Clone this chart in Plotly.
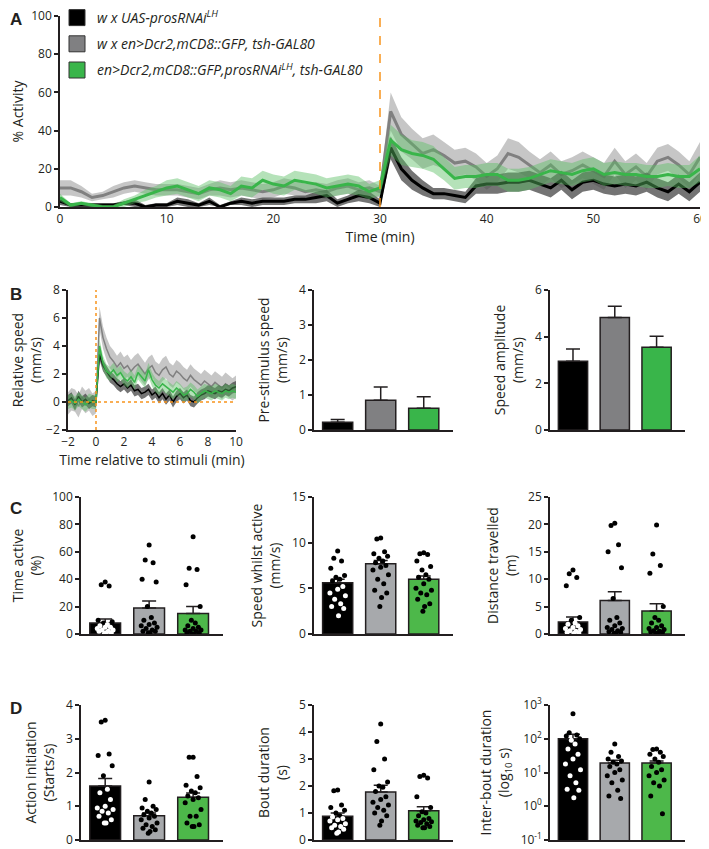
import plotly.graph_objects as go

# window is 709x849; the page body's default 8px margin offsets the figure,
# so the figure is sized to reach exactly the right/bottom window edges
OFF = 8
W, H = 709 - OFF, 849 - OFF

# ---------------- data ----------------
GROUP_NAMES = [
    "<i>w x UAS-prosRNAi<sup>LH</sup></i>",
    "<i>w x en>Dcr2,mCD8::GFP, tsh-GAL80</i>",
    "<i>en>Dcr2,mCD8::GFP,prosRNAi<sup>LH</sup>, tsh-GAL80</i>",
]

# Panel A: % activity per minute
A_TIME = [0, 1, 2, 3, 4, 5, 6, 7, 8, 9, 10, 11, 12, 13, 14, 15, 16, 17, 18, 19, 20,
          21, 22, 23, 24, 25, 26, 27, 28, 29, 30, 31, 32, 33, 34, 35, 36, 37, 38, 39, 40,
          41, 42, 43, 44, 45, 46, 47, 48, 49, 50, 51, 52, 53, 54, 55, 56, 57, 58, 59, 60]
A_BLACK = [3, 1, 1, 1, 1, 1, 2, 2, 0, 1, 1, 3, 2, 1, 3, 0, 2, 3, 2, 3, 3, 3, 4, 4, 5, 6, 2, 4, 6, 5, 2,
           31, 20, 14, 10, 7, 7, 6, 5, 11, 12, 12, 13, 13, 14, 12, 10, 14, 9, 13, 14, 12, 11, 12, 11, 13, 10, 8, 12, 8, 13]
A_BLACK_SEM = [2, 1, 1, 1, 1, 1, 1, 2, 1, 1, 1, 2, 2, 1, 2, 1, 1, 2, 2, 2, 2, 2, 2, 2, 3, 3, 2, 2, 3, 3, 2,
               6, 6, 5, 4, 3, 3, 3, 3, 4, 5, 5, 5, 5, 5, 5, 5, 5, 5, 5, 5, 5, 5, 5, 5, 5, 5, 5, 5, 5, 5]
A_GRAY = [10, 10, 8, 5, 6, 8, 10, 11, 10, 9, 9, 9, 8, 7, 9, 10, 9, 10, 9, 8, 9, 11, 10, 8, 9, 8, 10, 11, 9, 10, 8,
          50, 38, 33, 28, 30, 27, 23, 24, 21, 16, 20, 28, 26, 22, 18, 22, 17, 19, 22, 19, 16, 24, 17, 21, 16, 24, 26, 22, 17, 26]
A_GRAY_SEM = [4, 4, 3, 2, 2, 3, 3, 3, 3, 3, 3, 3, 3, 3, 3, 4, 4, 4, 4, 4, 4, 4, 4, 4, 4, 4, 4, 4, 4, 4, 3,
              10, 9, 8, 8, 8, 7, 7, 7, 7, 7, 7, 8, 8, 7, 7, 7, 7, 7, 7, 7, 7, 7, 7, 7, 7, 7, 7, 7, 7, 8]
A_GREEN = [5, 1, 2, 1, 0, 0, 2, 4, 6, 8, 10, 11, 9, 7, 10, 9, 7, 11, 10, 14, 12, 11, 14, 13, 12, 10, 11, 12, 11, 8, 10,
           35, 30, 28, 27, 25, 20, 15, 16, 16, 17, 17, 14, 14, 15, 17, 19, 18, 17, 19, 20, 17, 18, 17, 17, 16, 16, 17, 16, 16, 20]
A_GREEN_SEM = [2, 1, 1, 1, 1, 1, 2, 2, 3, 3, 4, 4, 4, 4, 4, 4, 4, 5, 5, 5, 5, 5, 5, 5, 5, 5, 5, 5, 5, 4, 4,
               8, 8, 7, 7, 7, 6, 6, 6, 6, 6, 6, 6, 6, 6, 6, 6, 6, 6, 6, 6, 6, 6, 6, 6, 6, 6, 6, 6, 6, 7]
STIM_TIME = 30

# Panel B: relative speed around stimulus
B_TIME = [-2, -1.75, -1.5, -1.25, -1, -0.75, -0.5, -0.25, 0, 0.25, 0.5, 0.75, 1, 1.25, 1.5, 1.75,
          2, 2.25, 2.5, 2.75, 3, 3.25, 3.5, 3.75, 4, 4.25, 4.5, 4.75, 5, 5.25, 5.5, 5.75,
          6, 6.25, 6.5, 6.75, 7, 7.25, 7.5, 7.75, 8, 8.25, 8.5, 8.75, 9, 9.25, 9.5, 9.75, 10]
B_BLACK = [0.1, 0.3, -0.2, 0.4, 0.0, 0.2, -0.1, 0.1, 0.0, 3.4, 2.6, 2.2, 1.8, 1.6, 1.3, 1.1,
           1.3, 1.0, 1.2, 0.8, 0.9, 0.6, 0.7, 0.9, 0.5, 0.7, 0.3, 0.6, 0.2, 0.5, 0.0, 0.4,
           0.6, 0.3, 0.5, 0.1, 0.0, 0.3, 0.5, 0.6, 0.8, 0.7, 0.6, 0.8, 0.7, 0.9, 0.8, 1.0, 1.1]
B_GRAY = [-0.1, 0.2, 0.1, -0.3, 0.3, 0.0, 0.2, -0.2, 0.0, 6.0, 4.6, 3.8, 3.2, 2.9, 2.5, 2.8,
          2.4, 2.6, 2.2, 2.5, 2.7, 2.3, 2.0, 2.4, 2.6, 2.1, 1.9, 2.3, 2.5, 2.0, 1.8, 2.2,
          2.0, 1.7, 1.5, 1.9, 1.6, 1.4, 1.2, 1.5, 1.3, 1.1, 1.4, 1.2, 1.0, 1.3, 1.1, 0.9, 1.1]
B_GREEN = [0.0, 0.1, -0.1, 0.2, 0.0, -0.2, 0.1, 0.0, 0.0, 4.0, 2.8, 2.2, 2.0, 2.3, 1.9, 2.1,
           1.7, 1.5, 1.8, 1.4, 2.1, 1.8, 1.5, 2.3, 1.6, 1.2, 1.0, 1.3, 1.1, 0.9, 0.7, 1.0,
           0.8, 0.5, 0.6, 0.9, 0.7, 0.4, 0.6, 0.8, 0.7, 0.6, 0.8, 0.7, 0.6, 0.8, 0.7, 0.8, 0.7]
B_SEM = [0.4, 0.8, 0.5]  # black, gray, green

# Bar panels: mean, SEM (upper), individual animals
PRE_MEAN = [0.22, 0.85, 0.62]
PRE_SEM = [0.08, 0.38, 0.33]
AMP_MEAN = [2.95, 4.82, 3.55]
AMP_SEM = [0.52, 0.48, 0.47]

TA_MEAN = [8, 19, 15]
TA_SEM = [3, 5, 5]
TA_PTS = [
    [38, 36, 35, 10, 9, 8, 7, 6, 5, 5, 4, 3, 3, 2, 2, 1, 1, 0],
    [65, 54, 52, 40, 38, 20, 12, 10, 8, 7, 6, 5, 4, 3, 2, 2, 1, 1],
    [71, 48, 47, 36, 20, 10, 8, 6, 5, 4, 3, 3, 2, 2, 1, 1, 0, 0],
]
SWA_MEAN = [5.6, 7.7, 6.0]
SWA_SEM = [0.4, 0.35, 0.35]
SWA_PTS = [
    [9.1, 8.3, 8.0, 7.2, 6.4, 6.2, 6.0, 5.8, 5.2, 4.9, 4.5, 4.2, 3.8, 3.3, 3.0, 2.8, 2.0],
    [10.5, 10.4, 9.0, 8.8, 8.5, 8.3, 8.0, 7.8, 7.5, 7.3, 7.0, 6.5, 6.0, 5.5, 4.8, 4.5, 4.0, 3.0],
    [8.9, 8.8, 8.7, 8.0, 7.4, 7.0, 6.5, 6.2, 6.0, 5.5, 5.0, 4.8, 4.5, 4.3, 3.8, 3.3, 3.0, 2.5],
]
DIST_MEAN = [2.2, 6.1, 4.2]
DIST_SEM = [0.9, 1.6, 1.3]
DIST_PTS = [
    [11.7, 11.0, 10.3, 8.8, 3.0, 2.5, 2.0, 1.8, 1.5, 1.2, 1.0, 0.8, 0.6, 0.5, 0.3, 0.2, 0.1],
    [20.2, 19.8, 16.3, 15.0, 12.1, 6.5, 3.0, 2.5, 2.0, 1.5, 1.2, 1.0, 0.8, 0.6, 0.4, 0.3, 0.2, 0.1],
    [19.9, 14.6, 12.5, 11.1, 5.0, 3.0, 2.5, 2.0, 1.5, 1.2, 1.0, 0.8, 0.6, 0.5, 0.4, 0.3, 0.2, 0.1],
]
ACT_MEAN = [1.6, 0.72, 1.27]
ACT_SEM = [0.22, 0.08, 0.12]
ACT_PTS = [
    [3.55, 3.5, 2.55, 2.5, 2.2, 1.9, 1.5, 1.4, 1.2, 1.0, 0.95, 0.9, 0.85, 0.8, 0.7, 0.6, 0.5, 0.5],
    [1.72, 1.2, 1.0, 0.95, 0.9, 0.85, 0.8, 0.75, 0.7, 0.65, 0.6, 0.5, 0.45, 0.4, 0.35, 0.3, 0.25, 0.2],
    [2.45, 2.45, 1.88, 1.62, 1.55, 1.45, 1.4, 1.3, 1.25, 1.2, 1.1, 0.9, 0.7, 0.7, 0.5, 0.45, 0.4, 0.4],
]
BOUT_MEAN = [0.88, 1.78, 1.08]
BOUT_SEM = [0.12, 0.25, 0.15]
BOUT_PTS = [
    [1.85, 1.82, 1.3, 1.2, 1.1, 1.0, 0.9, 0.85, 0.8, 0.75, 0.7, 0.6, 0.55, 0.5, 0.45, 0.4, 0.3, 0.25],
    [4.3, 3.65, 3.0, 2.6, 2.15, 2.0, 1.95, 1.8, 1.6, 1.5, 1.4, 1.3, 1.2, 1.1, 1.0, 0.9, 0.7, 0.55],
    [2.4, 2.35, 2.3, 1.6, 1.2, 1.05, 1.0, 0.9, 0.8, 0.75, 0.7, 0.68, 0.65, 0.6, 0.55, 0.5, 0.45, 0.45],
]
IBD_MEAN = [100, 19, 19]
IBD_SEM = [35, 4, 3]
IBD_PTS = [
    [550, 150, 130, 120, 100, 90, 70, 50, 35, 25, 18, 12, 8, 5, 3.2, 3.0, 1.8],
    [70, 40, 30, 25, 22, 20, 18, 15, 12, 10, 8, 6, 5, 3, 2, 1.7],
    [50, 48, 40, 35, 30, 25, 20, 15, 12, 10, 8, 6, 5, 4, 2, 0.6],
]

# ---------------- style ----------------
FONT = "Open Sans"
INK = "#231f20"
LINE_COLS = ["#000000", "#808080", "#39b54a"]
BAND_COLS = ["rgba(70,70,70,0.75)", "rgba(160,160,160,0.6)", "rgba(90,190,100,0.45)"]
BAR_COLS_B = ["#000000", "#808082", "#39b54a"]
BAR_COLS_CD = ["#000000", "#a7a9ac", "#4db84a"]
JITTER = [0.0, -0.09, 0.09, -0.16, 0.16, -0.04, 0.05, -0.12, 0.12, 0.0, -0.18, 0.18,
          -0.07, 0.07, -0.14, 0.14, 0.02, -0.02]


def dom_x(left, right):
    """page-pixel x span -> paper fraction"""
    return [(left - OFF) / W, (right - OFF) / W]


def dom_y(top, bottom):
    """page-pixel y span -> paper fraction"""
    return [1 - (bottom - OFF) / H, 1 - (top - OFF) / H]


fig = go.Figure()

# ---- Panel A ----
for series, sem, i in [(A_GRAY, A_GRAY_SEM, 1), (A_BLACK, A_BLACK_SEM, 0), (A_GREEN, A_GREEN_SEM, 2)]:
    up = [m + s for m, s in zip(series, sem)]
    lo = [max(m - s, 0) for m, s in zip(series, sem)]
    fig.add_trace(go.Scatter(x=A_TIME + A_TIME[::-1], y=up + lo[::-1], fill="toself",
                             fillcolor=BAND_COLS[i], line=dict(width=0), mode="lines",
                             hoverinfo="skip", showlegend=False, xaxis="x", yaxis="y"))
    fig.add_trace(go.Scatter(x=A_TIME, y=series, mode="lines", line=dict(color=LINE_COLS[i], width=3),
                             showlegend=False, xaxis="x", yaxis="y"))
fig.add_shape(type="line", xref="x", yref="y domain", x0=STIM_TIME, x1=STIM_TIME, y0=0, y1=1,
              line=dict(color="#f7941d", width=1.5, dash="dash"))

# legend entries
for i in range(3):
    fig.add_trace(go.Scatter(x=[None], y=[None], mode="markers", name=GROUP_NAMES[i],
                             legendgroup=f"g{i}",
                             marker=dict(symbol="square", size=16, color=BAR_COLS_B[i],
                                         line=dict(color="#333333", width=1)),
                             xaxis="x", yaxis="y"))

# ---- Panel B line plot ----
for series, i in [(B_GRAY, 1), (B_BLACK, 0), (B_GREEN, 2)]:
    up = [m + B_SEM[i] for m in series]
    lo = [m - B_SEM[i] for m in series]
    fig.add_trace(go.Scatter(x=B_TIME + B_TIME[::-1], y=up + lo[::-1], fill="toself",
                             fillcolor=BAND_COLS[i], line=dict(width=0), mode="lines",
                             hoverinfo="skip", showlegend=False, xaxis="x2", yaxis="y2"))
    fig.add_trace(go.Scatter(x=B_TIME, y=series, mode="lines", line=dict(color=LINE_COLS[i], width=1.5),
                             showlegend=False, xaxis="x2", yaxis="y2"))
fig.add_shape(type="line", xref="x2", yref="y2 domain", x0=0, x1=0, y0=0, y1=1,
              line=dict(color="#f7941d", width=1.5, dash="dot"))
fig.add_shape(type="line", xref="x2 domain", yref="y2", x0=0, x1=1, y0=0, y1=0,
              line=dict(color="#f7941d", width=1.5, dash="dot"))


def add_bars(ax, means, sems, cols, pts=None):
    xa, ya = f"x{ax}", f"y{ax}"
    fig.add_trace(go.Bar(x=[0, 1, 2], y=means, width=0.7, marker=dict(color=cols, line=dict(color=INK, width=1.5)),
                         error_y=dict(type="data", symmetric=False, array=sems, arrayminus=[0, 0, 0],
                                      color=INK, thickness=1.5, width=7),
                         showlegend=False, xaxis=xa, yaxis=ya))
    if pts:
        for g, vals in enumerate(pts):
            xs = [g + JITTER[k] for k in range(len(vals))]
            colors = ["white" if (g == 0 and v < means[g]) else "black" for v in vals]
            fig.add_trace(go.Scatter(x=xs, y=vals, mode="markers",
                                     marker=dict(size=5, color=colors, line=dict(width=0)),
                                     showlegend=False, xaxis=xa, yaxis=ya))


add_bars(3, PRE_MEAN, PRE_SEM, BAR_COLS_B)
add_bars(4, AMP_MEAN, AMP_SEM, BAR_COLS_B)
add_bars(5, TA_MEAN, TA_SEM, BAR_COLS_CD, TA_PTS)
add_bars(6, SWA_MEAN, SWA_SEM, BAR_COLS_CD, SWA_PTS)
add_bars(7, DIST_MEAN, DIST_SEM, BAR_COLS_CD, DIST_PTS)
add_bars(8, ACT_MEAN, ACT_SEM, BAR_COLS_CD, ACT_PTS)
add_bars(9, BOUT_MEAN, BOUT_SEM, BAR_COLS_CD, BOUT_PTS)
add_bars(10, IBD_MEAN, IBD_SEM, BAR_COLS_CD, IBD_PTS)

# ---------------- axes ----------------
AX = dict(showline=True, linecolor=INK, linewidth=1.5, showgrid=False, zeroline=False,
          ticks="outside", ticklen=4, tickwidth=1.5, tickcolor=INK, ticklabeloverflow="allow",
          tickfont=dict(family=FONT, size=12, color=INK))
TITLE_FONT = dict(family=FONT, size=14, color=INK)
BAR_X = dict(showline=True, linecolor=INK, linewidth=1.5, showgrid=False, zeroline=False,
             ticks="", showticklabels=False, range=[-0.55, 2.68], fixedrange=True)

# page-pixel layout (top, bottom) of each row and (left, right) of each column
ROWS = {"B": (290, 430), "C": (497, 634), "D": (705, 840)}
COLS = [(81, 223), (314, 453), (550, 685)]

layout_axes = {}
layout_axes["xaxis"] = dict(AX, domain=dom_x(60, 700), range=[0, 60], tickvals=[0, 10, 20, 30, 40, 50, 60],
                            ticks="", anchor="y", linewidth=2,
                            title=dict(text="Time (min)", font=TITLE_FONT, standoff=6))
layout_axes["yaxis"] = dict(AX, domain=dom_y(16, 207), range=[0, 100], tickvals=[0, 20, 40, 60, 80, 100],
                            anchor="x", title=dict(text="% Activity", font=TITLE_FONT, standoff=8))
layout_axes["xaxis2"] = dict(AX, domain=dom_x(68, 236), range=[-2, 10], tickvals=[-2, 0, 2, 4, 6, 8, 10],
                             ticks="", anchor="y2",
                             title=dict(text="Time relative to stimuli (min)", font=TITLE_FONT, standoff=6))
layout_axes["yaxis2"] = dict(AX, domain=dom_y(*ROWS["B"]), range=[-2, 8], tickvals=[-2, 0, 2, 4, 6, 8],
                             anchor="x2", title=dict(text="Relative speed<br>(mm/s)", font=TITLE_FONT, standoff=8))

bar_specs = [
    (3, "B", 1, [0, 4], [0, 1, 2, 3, 4], None, "Pre-stimulus speed<br>(mm/s)"),
    (4, "B", 2, [0, 6], [0, 2, 4, 6], None, "Speed amplitude<br>(mm/s)"),
    (5, "C", 0, [0, 100], [0, 20, 40, 60, 80, 100], None, "Time active<br>(%)"),
    (6, "C", 1, [0, 15], [0, 5, 10, 15], None, "Speed whilst active<br>(mm/s)"),
    (7, "C", 2, [0, 25], [0, 5, 10, 15, 20, 25], None, "Distance travelled<br>(m)"),
    (8, "D", 0, [0, 4], [0, 1, 2, 3, 4], None, "Action initiation<br>(Starts/s)"),
    (9, "D", 1, [0, 5], [0, 1, 2, 3, 4, 5], None, "Bout duration<br>(s)"),
    (10, "D", 2, [-1, 3], [0.1, 1, 10, 100, 1000],
     ["10<sup>-1</sup>", "10<sup>0</sup>", "10<sup>1</sup>", "10<sup>2</sup>", "10<sup>3</sup>"],
     "Inter-bout duration<br>(log<sub>10</sub> s)"),
]
for ax, row, col, yr, tv, tt, title in bar_specs:
    layout_axes[f"xaxis{ax}"] = dict(BAR_X, domain=dom_x(*COLS[col]), anchor=f"y{ax}")
    yd = dict(AX, domain=dom_y(*ROWS[row]), range=yr, tickvals=tv, anchor=f"x{ax}",
              title=dict(text=title, font=TITLE_FONT, standoff=8))
    if tt:
        yd["type"] = "log"
        yd["ticktext"] = tt
    layout_axes[f"yaxis{ax}"] = yd

letters = [("A", 8), ("B", 283), ("C", 497), ("D", 697)]  # page-pixel top of each letter
annotations = [dict(text=f"<b>{t}</b>", x=0, y=min(1, 1 - (y - OFF) / H), xref="paper", yref="paper",
                    xanchor="left", yanchor="top", showarrow=False,
                    font=dict(family="Arial", size=17, color=INK)) for t, y in letters]

fig.update_layout(
    width=W, height=H, margin=dict(l=0, r=0, t=0, b=0, autoexpand=False),
    paper_bgcolor="white", plot_bgcolor="white",
    font=dict(family=FONT, color=INK),
    showlegend=True,
    legend=dict(x=(57 - OFF) / W, y=1 + 6 / H, xanchor="left", yanchor="top", bgcolor="rgba(0,0,0,0)",
                font=dict(family=FONT, size=14, color=INK), itemwidth=30, tracegroupgap=5,
                itemsizing="trace"),
    annotations=annotations,
    **layout_axes,
)

fig.write_html("out.html")
